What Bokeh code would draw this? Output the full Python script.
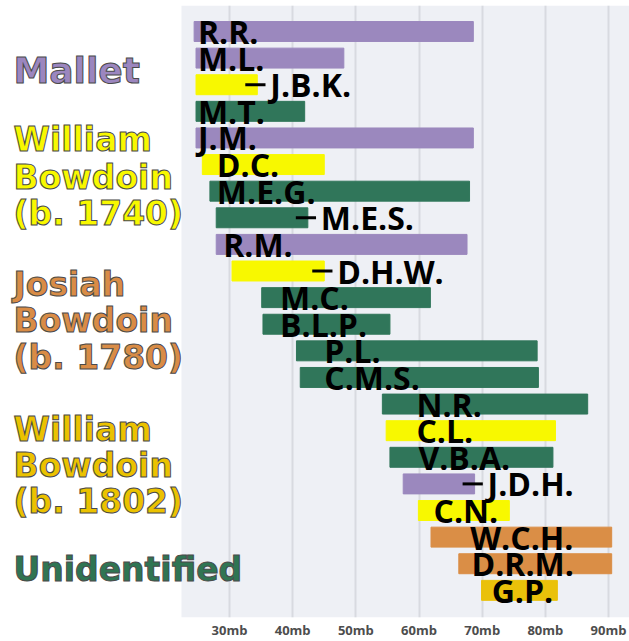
from bokeh.plotting import figure
from bokeh.models import ColumnDataSource, Range1d, FixedTicker, PrintfTickFormatter, BoxAnnotation
from bokeh.core.properties import value
from bokeh.embed import file_html
from bokeh.resources import INLINE

# ---- data ----
names = ["R.R.", "M.L.", "J.B.K.", "M.T.", "J.M.", "D.C.", "M.E.G.", "M.E.S.", "R.M.", "D.H.W.",
         "M.C.", "B.L.P.", "P.L.", "C.M.S.", "N.R.", "C.L.", "V.B.A.", "J.D.H.", "C.N.", "W.C.H.",
         "D.R.M.", "G.P."]
starts = [24.4, 24.7, 24.7, 24.7, 24.7, 25.7, 26.9, 27.9, 27.9, 30.4,
          35.1, 35.3, 40.6, 41.2, 54.2, 54.8, 55.4, 57.5, 59.9, 61.9,
          66.3, 69.9]
ends = [68.6, 48.1, 34.4, 41.9, 68.6, 45.0, 68.0, 42.4, 67.6, 45.0,
        61.8, 55.4, 78.7, 78.9, 86.7, 81.6, 81.2, 68.8, 74.3, 90.5,
        90.5, 81.9]
groups = ["Mallet", "Mallet", "WB1740", "Unid", "Mallet", "WB1740", "Unid", "Unid", "Mallet", "WB1740",
          "Unid", "Unid", "Unid", "Unid", "Unid", "WB1740", "Unid", "Mallet", "WB1740", "JB1780",
          "JB1780", "WB1802"]
# label anchor (mb); None = label placed outside, after the bar end
label_x = [25.0, 25.0, None, 25.0, 25.0, 28.0, 28.0, None, 29.0, None,
           38.0, 38.0, 45.0, 45.0, 59.6, 59.6, 59.9, None, 62.3, 68.1,
           68.3, 71.5]
ticks = [30, 40, 50, 60, 70, 80, 90]

group_names = ["Mallet", "WB1740", "JB1780", "WB1802", "Unid"]
group_titles = [["Mallet"], ["William", "Bowdoin", "(b. 1740)"], ["Josiah", "Bowdoin", "(b. 1780)"],
                ["William", "Bowdoin", "(b. 1802)"], ["Unidentified"]]

# ---- styles ----
bar_colors = {"Mallet": "#9B88BE", "WB1740": "#F8F800", "JB1780": "#DA8E46",
              "WB1802": "#EAC10A", "Unid": "#30765A"}
title_colors = {"Mallet": "#9B86BF", "WB1740": "#F8F800", "JB1780": "#D98C46",
                "WB1802": "#EBC200", "Unid": "#2F7553"}

rows = list(range(len(names)))
src = ColumnDataSource(dict(y=rows, start=starts, end=ends, color=[bar_colors[g] for g in groups]))

in_idx = [i for i in rows if label_x[i] is not None]
out_idx = [i for i in rows if label_x[i] is None]
in_src = ColumnDataSource(dict(x=[label_x[i] for i in in_idx], y=[rows[i] for i in in_idx],
                               t=[names[i] for i in in_idx]))
out_src = ColumnDataSource(dict(x=[ends[i] for i in out_idx], y=[rows[i] for i in out_idx],
                                x0=[ends[i] - 1.9 for i in out_idx], x1=[ends[i] + 1.3 for i in out_idx],
                                t=[names[i] for i in out_idx]))

PX = 6.317            # px per mb
X0 = 30 - 229 / PX    # data value at the left page edge
PLOT_LEFT = 30 - 48 / PX

p = figure(frame_width=629, frame_height=612, output_backend="svg", toolbar_location=None,
           x_range=Range1d(X0, X0 + 629 / PX), y_range=Range1d(22.02, -0.977),
           min_border_left=0, min_border_right=0, min_border_top=5, min_border_bottom=0)
p.background_fill_color = "white"
p.border_fill_color = "white"
p.outline_line_color = None
p.add_layout(BoxAnnotation(left=PLOT_LEFT, fill_color="#EEF0F5", fill_alpha=1, line_color=None,
                           level="image"))
p.ygrid.grid_line_color = None
p.xgrid.grid_line_color = "#D8DAE0"
p.xgrid.grid_line_width = 2
p.yaxis.visible = False
ax = p.xaxis[0]
ax.ticker = FixedTicker(ticks=ticks)
ax.formatter = PrintfTickFormatter(format="%dmb")
ax.axis_line_color = None
ax.major_tick_line_color = None
ax.minor_tick_line_color = None
ax.major_tick_out = 0
ax.major_tick_in = 0
ax.minor_tick_out = 0
ax.major_label_standoff = 3
ax.major_label_text_font = "Open Sans"
ax.major_label_text_font_style = "bold"
ax.major_label_text_font_size = "13px"
ax.major_label_text_color = "#4D4D4D"

p.hbar(y="y", left="start", right="end", height=0.75, color="color", source=src)

p.text(x="x", y="y", text="t", source=in_src, text_font=value("Open Sans"), text_font_style="bold",
       text_font_size="32px", text_baseline="middle", text_align="left", text_color="black")
p.segment(x0="x0", y0="y", x1="x1", y1="y", source=out_src, line_color="black", line_width=3)
p.text(x="x", y="y", text="t", source=out_src, text_font=value("Open Sans"), text_font_style="bold",
       text_font_size="32px", text_baseline="middle", text_align="left", x_offset=13, text_color="black")

# group titles (left side legend)
title_y = [[1.465], [4.057, 5.485, 6.837], [9.504, 10.857, 12.246], [14.951, 16.303, 17.656], [20.211]]
tx, ty, tt, tc, ts = [], [], [], [], []
for g, lines, ys in zip(group_names, group_titles, title_y):
    for line, yy in zip(lines, ys):
        tx.append(X0 + 13 / PX)
        ty.append(yy)
        tt.append(line)
        tc.append(title_colors[g])
        ts.append("36px" if g == "Mallet" else "33px")
tsrc = ColumnDataSource(dict(x=tx, y=ty, t=tt, c=tc, s=ts))
p.text(x="x", y="y", text="t", source=tsrc, text_font=value("DejaVu Sans"), text_font_style="bold",
       text_font_size="s", text_color="c", text_baseline="middle", text_align="left",
       text_outline_color="#4A4A4A")

open("out.html", "w").write(file_html(p, INLINE))
